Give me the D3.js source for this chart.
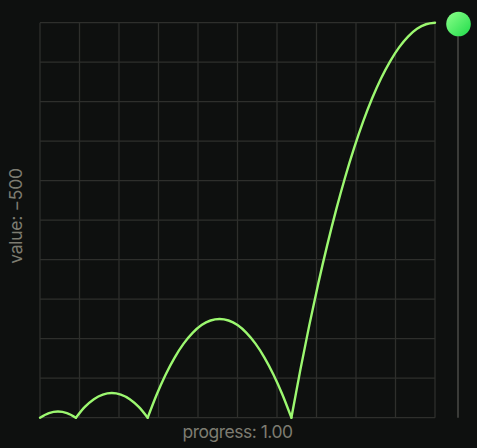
<!DOCTYPE html>
<html><head><meta charset="utf-8">
<script src="https://cdn.jsdelivr.net/npm/d3@7/dist/d3.min.js"></script>
<style>
html,body{margin:0;padding:0;background:#0e100f;}
svg{display:block;}
</style></head>
<body>
<svg id="c" width="477" height="448"></svg>
<script>
// progress samples (step 1/44) and eased values
const progress = [0,0.0227,0.0455,0.0682,0.0909,0.1136,0.1364,0.1591,0.1818,0.2045,0.2273,0.25,0.2727,0.2955,0.3182,0.3409,0.3636,0.3864,0.4091,0.4318,0.4545,0.4773,0.5,0.5227,0.5455,0.5682,0.5909,0.6136,0.6364,0.6591,0.6818,0.7045,0.7273,0.75,0.7727,0.7955,0.8182,0.8409,0.8636,0.8864,0.9091,0.9318,0.9545,0.9773,1];
const values = [0,0.0117,0.0156,0.0117,0,0.0273,0.0469,0.0586,0.0625,0.0586,0.0469,0.0273,0,0.0586,0.1094,0.1523,0.1875,0.2148,0.2344,0.2461,0.25,0.2461,0.2344,0.2148,0.1875,0.1523,0.1094,0.0586,0,0.1211,0.2344,0.3398,0.4375,0.5273,0.6094,0.6836,0.75,0.8086,0.8594,0.9023,0.9375,0.9648,0.9844,0.9961,1];
const gridTicks = [0,0.1,0.2,0.3,0.4,0.5,0.6,0.7,0.8,0.9,1];
const xLabel = "progress: 1.00";
const yLabel = "value: \u2212500";
const ballValue = 1;

const svg = d3.select("#c");
const x = d3.scaleLinear().domain([0,1]).range([40,435]);
const y = d3.scaleLinear().domain([0,1]).range([417.7,22.7]);

const defs = svg.append("defs");
const g = defs.append("linearGradient").attr("id","ballg").attr("x1","0%").attr("y1","0%").attr("x2","100%").attr("y2","100%");
g.append("stop").attr("offset","0%").attr("stop-color","#8dff8a");
g.append("stop").attr("offset","100%").attr("stop-color","#1fdc4a");

const grid = svg.append("g");
grid.selectAll(".v").data(gridTicks).enter().append("line")
  .attr("x1",d=>x(d)).attr("x2",d=>x(d)).attr("y1",y(0)).attr("y2",y(1))
  .attr("stroke","#2e2f2c").attr("stroke-width",1.3);
grid.selectAll(".h").data(gridTicks).enter().append("line")
  .attr("y1",d=>y(d)).attr("y2",d=>y(d)).attr("x1",x(0)).attr("x2",x(1))
  .attr("stroke","#2e2f2c").attr("stroke-width",1.3);

// split into bounce arcs at the zero touch points
const pts = progress.map((p,i)=>({p, v:values[i]}));
const segs = [];
let cur = [pts[0]];
for (let i=1;i<pts.length;i++){
  cur.push(pts[i]);
  if (pts[i].v===0 && i<pts.length-1){ segs.push(cur); cur=[pts[i]]; }
}
segs.push(cur);
const line = d3.line().x(d=>x(d.p)).y(d=>y(d.v)).curve(d3.curveMonotoneX);
svg.append("g").selectAll("path").data(segs).enter().append("path")
  .attr("d",line).attr("fill","none").attr("stroke","#9cf870").attr("stroke-width",2.4)
  .attr("stroke-linecap","round").attr("stroke-linejoin","round");

// track + ball
svg.append("line").attr("x1",458).attr("x2",458).attr("y1",y(ballValue)).attr("y2",y(0))
  .attr("stroke","#3a3b38").attr("stroke-width",2);
svg.append("circle").attr("cx",458.5).attr("cy",y(ballValue)+1.3).attr("r",12.3).attr("fill","url(#ballg)");

svg.append("text").attr("x",237.5).attr("y",438).attr("text-anchor","middle")
  .attr("font-family","Inter, sans-serif").attr("font-size",17.5).attr("letter-spacing","-0.5")
  .attr("fill","#7d7c71").text(xLabel);
svg.append("text").attr("transform","translate(22,216) rotate(-90)").attr("text-anchor","middle")
  .attr("font-family","Inter, sans-serif").attr("font-size",17.5).attr("letter-spacing","-0.3")
  .attr("fill","#7d7c71").text(yLabel);
</script>
</body></html>
